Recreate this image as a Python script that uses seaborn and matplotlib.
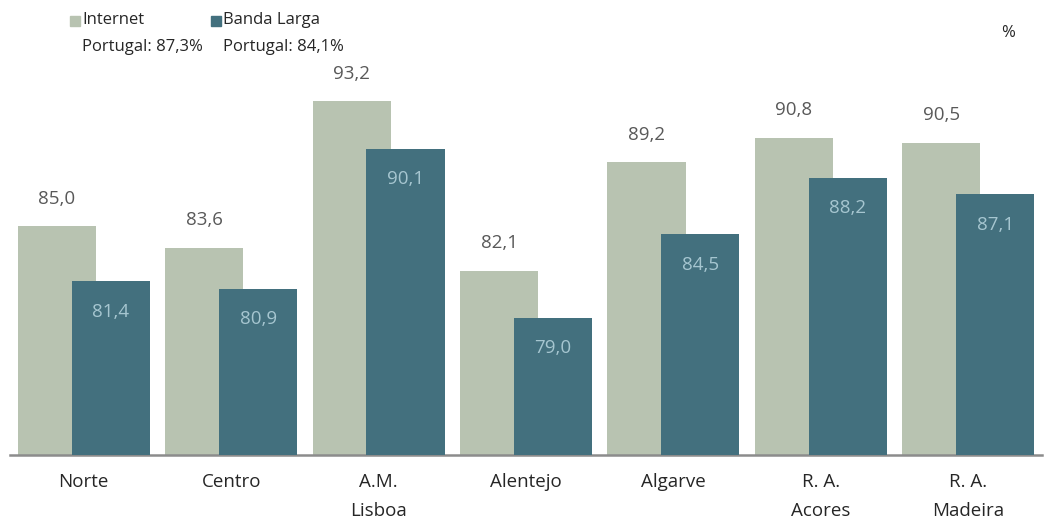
import matplotlib
matplotlib.use("Agg")
import matplotlib.pyplot as plt
import seaborn as sns
import pandas as pd
import numpy as np
from matplotlib.patches import Rectangle

regions = ["Norte", "Centro", "A.M.\nLisboa", "Alentejo", "Algarve", "R. A.\nAcores", "R. A.\nMadeira"]
internet = [85.0, 83.6, 93.2, 82.1, 89.2, 90.8, 90.5]
banda_larga = [81.4, 80.9, 90.1, 79.0, 84.5, 88.2, 87.1]
legend_labels = ["Internet", "Banda Larga"]
portugal_labels = ["Portugal: 87,3%", "Portugal: 84,1%"]

c_light = "#b8c3b1"
c_dark = "#43707e"

sns.set_theme(style="white")
plt.rcParams['font.family'] = ['Open Sans', 'DejaVu Sans']

fig = plt.figure(figsize=(10.51, 5.24), dpi=100)
ax = fig.add_axes([10/1051, (524-455)/524, 1032/1051, 455/524])

off = 0.183
w = 0.53
pos = np.arange(len(regions))
df1 = pd.DataFrame({"x": pos - off, "v": internet})
df2 = pd.DataFrame({"x": pos + off, "v": banda_larga})
sns.barplot(data=df1, x="x", y="v", native_scale=True, width=w, color=c_light,
            saturation=1, ax=ax, zorder=2, linewidth=0)
sns.barplot(data=df2, x="x", y="v", native_scale=True, width=w, color=c_dark,
            saturation=1, ax=ax, zorder=3, linewidth=0)

ax.set_xlim(-0.5, 6.5)
ax.set_ylim(70, 70 + 455/15.24)
ax.set_xticks(pos)
ax.set_xticklabels(regions, fontsize=13.5, color="#262626", linespacing=1.75)
ax.tick_params(axis="x", length=0, pad=13)
ax.set_yticks([])
ax.set_xlabel("")
ax.set_ylabel("")
for s in ["top", "right", "left"]:
    ax.spines[s].set_visible(False)
ax.spines["bottom"].set_color("#8c8c8c")
ax.spines["bottom"].set_linewidth(1.8)

for i, (a, b) in enumerate(zip(internet, banda_larga)):
    ax.annotate(f"{a:.1f}".replace(".", ","), (i - off, a), xytext=(0, 20),
                textcoords="offset points", ha="center", va="center",
                fontsize=13.5, color="#595959")
    ax.annotate(f"{b:.1f}".replace(".", ","), (i + off, b), xytext=(0, -22),
                textcoords="offset points", ha="center", va="center",
                fontsize=13.5, color="#a6c6d0", zorder=5)

# legend
for x0, col, lab, pl in [(70, c_light, legend_labels[0], portugal_labels[0]),
                        (211, c_dark, legend_labels[1], portugal_labels[1])]:
    fig.patches.append(Rectangle((x0/1051, 1 - 26/524), 10/1051, 10/524,
                                 transform=fig.transFigure, color=col))
    fig.text((x0 + 12)/1051, 1 - 20/524, lab, fontsize=12, color="#262626",
             va="center", ha="left")
    fig.text((x0 + 12)/1051, 1 - 47/524, pl, fontsize=12, color="#262626",
             va="center", ha="left")
fig.text(1008/1051, 1 - 33/524, "%", fontsize=12, color="#262626", va="center", ha="center")

fig.savefig("out.png", dpi=100)
